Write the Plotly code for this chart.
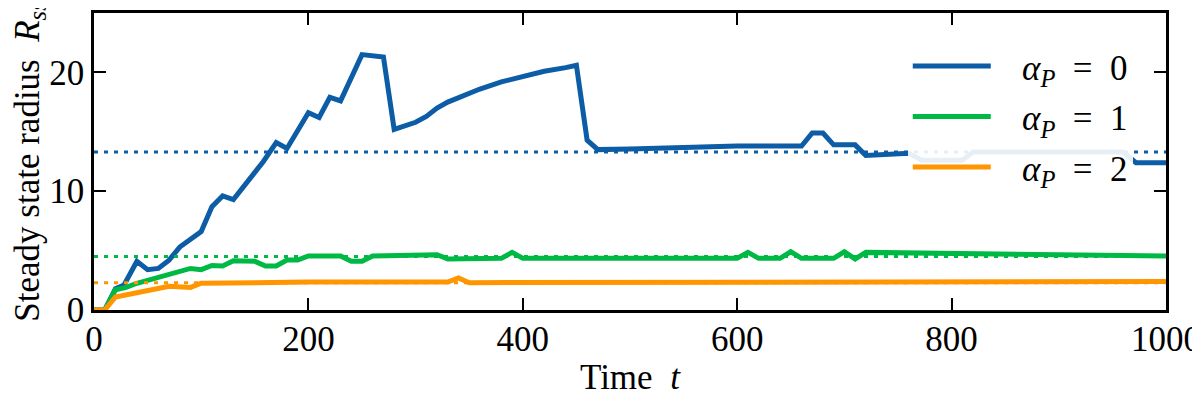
import plotly.graph_objects as go

# alpha_P = 0
t_a0 = [0, 10, 20, 28, 40, 50, 60, 70, 80, 90, 100, 110, 120, 130, 145, 158, 170, 180,
        200, 210, 220, 230, 250, 270, 280, 290, 300, 310, 320, 330, 340, 360, 380, 400,
        420, 440, 450, 460, 470, 500, 550, 600, 660, 670, 680, 690, 710, 720, 760, 772,
        810, 820, 960, 972, 1000]
r_a0 = [0, 0, 1.8, 2.1, 4.1, 3.4, 3.5, 4.2, 5.3, 5.9, 6.6, 8.7, 9.6, 9.3, 11.0, 12.5, 14.1, 13.6,
        16.6, 16.2, 17.9, 17.6, 21.5, 21.3, 15.2, 15.5, 15.8, 16.3, 17.0, 17.5, 17.9, 18.6, 19.2, 19.7,
        20.1, 20.4, 20.6, 14.3, 13.5, 13.55, 13.7, 13.8, 13.8, 14.9, 14.9, 13.9, 13.9, 13.0, 13.2, 12.6,
        12.6, 13.3, 13.3, 12.4, 12.4]

# alpha_P = 1
t_a1 = [0, 10, 20, 30, 40, 50, 70, 90, 100, 110, 120, 130, 150, 160, 170, 180, 190, 200,
        230, 240, 250, 260, 320, 330, 380, 390, 400, 600, 610, 620, 640, 650, 660, 690,
        700, 710, 720, 850, 1000]
r_a1 = [0, 0, 1.7, 1.9, 2.25, 2.5, 2.9, 3.5, 3.4, 3.75, 3.7, 4.15, 4.1, 3.7, 3.7, 4.2, 4.2, 4.55,
        4.55, 4.1, 4.1, 4.55, 4.65, 4.3, 4.35, 4.85, 4.35, 4.35, 4.85, 4.35, 4.35, 4.9, 4.35, 4.35,
        4.9, 4.3, 4.85, 4.75, 4.55]

# alpha_P = 2
t_a2 = [0, 10, 20, 35, 55, 70, 90, 100, 150, 200, 330, 340, 350, 1000]
r_a2 = [0, 0, 1.1, 1.4, 1.7, 2.0, 1.9, 2.25, 2.3, 2.35, 2.35, 2.7, 2.3, 2.4]

# dotted reference levels
t_ref = [0, 1000]
r_ref = [13.3, 4.5, 2.3]

pad = "&nbsp;" * 3
names = [pad + "<i>α</i><sub><i>P</i></sub>&nbsp; = &nbsp;0",
         pad + "<i>α</i><sub><i>P</i></sub>&nbsp; = &nbsp;1",
         pad + "<i>α</i><sub><i>P</i></sub>&nbsp; = &nbsp;2"]
colors = ["#0C5DA5", "#00B945", "#FF9500"]

series = [(t_a0, r_a0), (t_a1, r_a1), (t_a2, r_a2)]

fig = go.Figure()
for i, (tt, rr) in enumerate(series):
    fig.add_trace(go.Scatter(x=tt, y=rr, mode='lines', name=names[i],
                             legendgroup=str(i),
                             line=dict(color=colors[i], width=5)))
for i, lvl in enumerate(r_ref):
    fig.add_trace(go.Scatter(x=t_ref, y=[lvl, lvl], mode='lines', showlegend=False,
                             line=dict(color=colors[i], width=3, dash="4px,6px")))

font = dict(family="Liberation Serif", size=35, color="black")
axis_style = dict(showline=True, linecolor="black", linewidth=2.5, mirror='ticks',
                  ticks="inside", ticklen=12, tickwidth=2, tickcolor="black",
                  showgrid=False, zeroline=False, tickfont=font, automargin=False,
                  ticklabeloverflow="allow")

fig.update_xaxes(range=[0, 1000], tickvals=[0, 200, 400, 600, 800, 1000],
                 ticklabelstandoff=-4, **axis_style)
fig.update_yaxes(range=[0, 25], tickvals=[0, 10, 20],
                 title=dict(text="Steady state radius  <i>R</i><sub><i>ss</i></sub>",
                            font=font, standoff=18),
                 **axis_style)

fig.add_annotation(text="Time  <i>t</i>", xref="paper", yref="paper", x=0.5, y=-0.226,
                   showarrow=False, font=font, xanchor="center", yanchor="middle")

# page body adds an 8px margin, so the figure is a bit smaller than the window
fig.update_layout(
    width=1192, height=385,
    margin=dict(l=86, r=34, t=5, b=83),
    plot_bgcolor="white", paper_bgcolor="white",
    font=font,
    legend=dict(x=0.969, y=0.92, xanchor="right", yanchor="top",
                bgcolor="rgba(255,255,255,0.9)", borderwidth=0,
                itemwidth=78, tracegroupgap=2, font=font),
)

fig.write_html("out.html")
